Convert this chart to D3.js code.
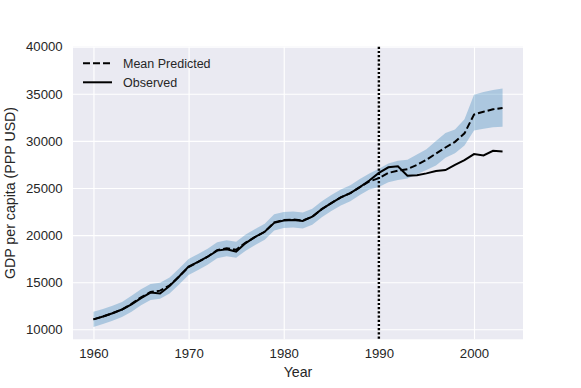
<!DOCTYPE html>
<html>
<head>
<meta charset="utf-8">
<script src="https://cdn.jsdelivr.net/npm/d3@7"></script>
<style>
  body { margin: 0; background: #fff; }
  svg text { font-family: "Liberation Sans", Arial, sans-serif; fill: #262626; }
</style>
</head>
<body>
<div id="chart"></div>
<script>

var years = [1960, 1961, 1962, 1963, 1964, 1965, 1966, 1967, 1968, 1969,
             1970, 1971, 1972, 1973, 1974, 1975, 1976, 1977, 1978, 1979,
             1980, 1981, 1982, 1983, 1984, 1985, 1986, 1987, 1988, 1989,
             1990, 1991, 1992, 1993, 1994, 1995, 1996, 1997, 1998, 1999,
             2000, 2001, 2002, 2003];

var observed = [11050, 11350, 11700, 12100, 12650, 13300, 13900, 13800, 14600, 15600,
                16650, 17150, 17700, 18350, 18500, 18250, 19150, 19800, 20350, 21300,
                21550, 21600, 21500, 21950, 22750, 23400, 24000, 24450, 25100, 25800,
                26600, 27200, 27300, 26300, 26350, 26550, 26800, 26900, 27450, 27950,
                28600, 28450, 28950, 28880];

var predMean = [11050, 11350, 11700, 12100, 12700, 13400, 13950, 14100, 14650, 15600,
                16600, 17150, 17700, 18400, 18600, 18450, 19200, 19800, 20350, 21350,
                21600, 21650, 21550, 21950, 22750, 23400, 24000, 24450, 25100, 25700,
                26050, 26600, 26850, 27000, 27450, 28000, 28650, 29300, 29900, 30800,
                32800, 33100, 33350, 33500];

var predLow = [10250, 10550, 10900, 11300, 11850, 12550, 13100, 13250, 13800, 14750,
               15750, 16300, 16850, 17550, 17750, 17600, 18350, 18950, 19500, 20500,
               20750, 20800, 20700, 21100, 21900, 22550, 23150, 23600, 24250, 24850,
               25100, 25600, 25850, 26000, 26450, 26900, 27400, 28200, 28700, 29500,
               31100, 31300, 31450, 31500];

var predHigh = [11850, 12150, 12500, 12900, 13550, 14250, 14800, 14950, 15500, 16450,
                17450, 18000, 18550, 19250, 19450, 19300, 20050, 20650, 21200, 22200,
                22450, 22500, 22400, 22800, 23600, 24250, 24850, 25300, 25950, 26550,
                27050, 27600, 27900, 28000, 28550, 29100, 30000, 30850, 31200, 32300,
                34900, 35200, 35400, 35550];

var xTicks = [1960, 1970, 1980, 1990, 2000];
var yTicks = [10000, 15000, 20000, 25000, 30000, 35000, 40000];
var splitYear = 1990;

var margin = {top: 46.7, right: 58, bottom: 48.7, left: 73};
var width = 581 - margin.left - margin.right;
var height = 388 - margin.top - margin.bottom;

var data = years.map(function(y, i) {
  return {year: y, obs: observed[i], mean: predMean[i], lo: predLow[i], hi: predHigh[i]};
});

var xScale = d3.scaleLinear()
    .domain([1957.85, 2005.15])
    .range([0, width]);

var yScale = d3.scaleLinear()
    .domain([8936, 40000])
    .range([height, 0]);

var svg = d3.select("#chart").append("svg")
    .attr("width", 581)
    .attr("height", 388)
  .append("g")
    .attr("transform", "translate(" + margin.left + "," + margin.top + ")");

svg.append("rect")
    .attr("width", width)
    .attr("height", height)
    .attr("fill", "#eaeaf2");

// grid
var xAxis = d3.axisBottom(xScale)
    .tickValues(xTicks)
    .tickFormat(d3.format("d"))
    .tickSize(-height)
    .tickPadding(9.5);

var yAxis = d3.axisLeft(yScale)
    .tickValues(yTicks)
    .tickFormat(d3.format("d"))
    .tickSize(-width)
    .tickPadding(10.3);

var gx = svg.append("g")
    .attr("transform", "translate(0," + height + ")")
    .call(xAxis);

var gy = svg.append("g")
    .call(yAxis);

[gx, gy].forEach(function(g) {
  g.select(".domain").remove();
  g.selectAll(".tick line").attr("stroke", "#fff").attr("stroke-width", 1.1);
  g.selectAll(".tick text")
      .attr("font-size", 13.2)
      .attr("font-family", "'Liberation Sans', Arial, sans-serif")
      .attr("fill", "#262626");
});

// confidence band
var area = d3.area()
    .x(function(d) { return xScale(d.year); })
    .y0(function(d) { return yScale(d.lo); })
    .y1(function(d) { return yScale(d.hi); });

svg.append("path")
    .datum(data)
    .attr("d", area)
    .attr("fill", "#1f77b4")
    .attr("fill-opacity", 0.3);

var lineMean = d3.line()
    .x(function(d) { return xScale(d.year); })
    .y(function(d) { return yScale(d.mean); });

var lineObs = d3.line()
    .x(function(d) { return xScale(d.year); })
    .y(function(d) { return yScale(d.obs); });

svg.append("path")
    .datum(data)
    .attr("d", lineMean)
    .attr("fill", "none")
    .attr("stroke", "#000")
    .attr("stroke-width", 2)
    .attr("stroke-dasharray", "7,3");

svg.append("path")
    .datum(data)
    .attr("d", lineObs)
    .attr("fill", "none")
    .attr("stroke", "#000")
    .attr("stroke-width", 2);

// split marker
svg.append("line")
    .attr("x1", xScale(splitYear))
    .attr("x2", xScale(splitYear))
    .attr("y1", 0)
    .attr("y2", height)
    .attr("stroke", "#000")
    .attr("stroke-width", 2.4)
    .attr("stroke-dasharray", "2.2,2");

// legend
var legendItems = [
  {label: "Mean Predicted", dash: "7,3"},
  {label: "Observed", dash: null}
];

var legend = svg.append("g")
    .attr("transform", "translate(10,16.6)");

legendItems.forEach(function(item, i) {
  var row = legend.append("g").attr("transform", "translate(0," + (i * 19) + ")");
  row.append("line")
      .attr("x1", 0).attr("x2", 29)
      .attr("stroke", "#000")
      .attr("stroke-width", 2)
      .attr("stroke-dasharray", item.dash);
  row.append("text")
      .attr("x", 40)
      .attr("dy", "0.35em")
      .attr("font-size", 12.5)
      .text(item.label);
});

// axis titles
svg.append("text")
    .attr("x", width / 2)
    .attr("y", height + 37.6)
    .attr("text-anchor", "middle")
    .attr("font-size", 14.2)
    .text("Year");

svg.append("text")
    .attr("transform", "rotate(-90)")
    .attr("x", -height / 2)
    .attr("y", -57.8)
    .attr("text-anchor", "middle")
    .attr("font-size", 14.2)
    .text("GDP per capita (PPP USD)");

</script>
</body>
</html>
